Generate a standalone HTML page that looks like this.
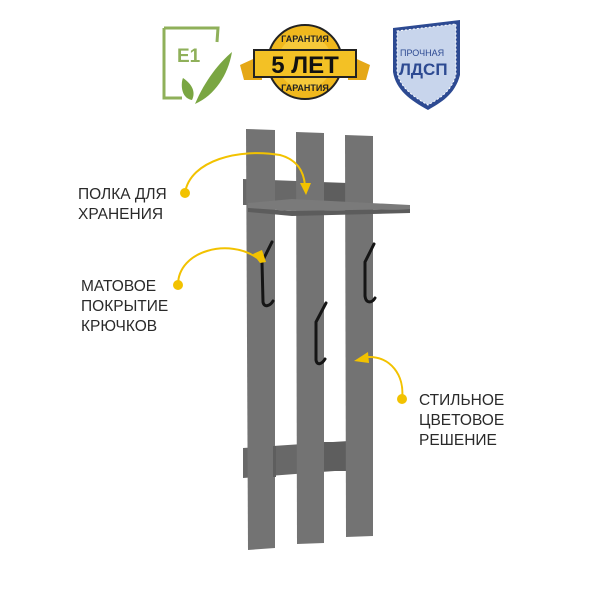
<!DOCTYPE html>
<html><head><meta charset="utf-8"><style>
html,body{margin:0;padding:0;background:#fff;width:600px;height:600px;overflow:hidden}
svg{display:block}
text{font-family:"Liberation Sans",sans-serif}
</style></head><body>
<svg width="600" height="600" viewBox="0 0 600 600" xmlns="http://www.w3.org/2000/svg">
<!-- E1 badge -->
<path d="M164 28 L218 28 L217 42" fill="none" stroke="#8fb05a" stroke-width="3"/>
<path d="M164 28 L164 98 L182 98" fill="none" stroke="#8fb05a" stroke-width="3"/>
<text x="177" y="62" font-size="19" font-weight="bold" fill="#8fb05a">E1</text>
<path d="M195 104 C205 80 220 62 232 52 C228 75 215 95 195 104 Z" fill="#7aa642"/>
<path d="M192 100 C180 98 181 82 183 78 C192 84 196 92 192 100 Z" fill="#7aa642"/>
<!-- warranty badge -->
<path d="M240 65 L262 55 L262 80 L244 80 Z M370 65 L348 55 L348 80 L366 80 Z" fill="#e5a817"/>
<circle cx="305" cy="62" r="37" fill="#f0b81d" stroke="#222" stroke-width="2"/>
<circle cx="305" cy="62" r="27" fill="#f6c93a"/>
<text x="305" y="42" font-size="9" text-anchor="middle" fill="#222" font-weight="bold">ГАРАНТИЯ</text>
<text x="305" y="91" font-size="9" text-anchor="middle" fill="#222" font-weight="bold">ГАРАНТИЯ</text>
<rect x="254" y="50" width="102" height="27" fill="#f3c125" stroke="#222" stroke-width="2"/>
<text x="305" y="73" font-size="24" text-anchor="middle" fill="#111" font-weight="bold">5 ЛЕТ</text>
<!-- shield -->
<path d="M393 28 L460 20 L460 75 C455 95 440 103 428 110 C410 100 396 90 393 72 Z" fill="#2d4a92"/>
<path d="M397 31 L456 24 L456 74 C452 92 438 99 428 105 C412 96 400 87 397 72 Z" fill="#c8d5ec" stroke="#fff" stroke-dasharray="2 2"/>
<text x="400" y="56" font-size="9" fill="#2d4a92">ПРОЧНАЯ</text>
<text x="399" y="75" font-size="17" font-weight="bold" fill="#2d4a92">ЛДСП</text>
<!-- back panels (behind boards) -->
<polygon points="243,179 348,183 348,205 243,205" fill="#686868"/>
<polygon points="243,448 348,441 348,470 243,478" fill="#686868"/>
<rect x="323" y="183" width="25" height="22" fill="#5e5e5e"/>
<rect x="323" y="442" width="25" height="29" fill="#5e5e5e"/>
<!-- boards -->
<g fill="#737373">
<polygon points="246,129 275,130 275,548 248,550"/>
<polygon points="296,132 324,133 324,543 297,544"/>
<polygon points="345,135 373,136 373,536 346,537"/>
</g>
<rect x="273" y="446" width="3" height="31" fill="#5e5e5e"/>
<!-- shelf plate -->
<polygon points="248,203 292,199 410,205 410,209 292,211 248,208" fill="#7a7a7a"/>
<polygon points="248,208 292,211 410,209 410,213 292,216 248,212" fill="#5c5c5c"/>
<!-- hooks -->
<g fill="none" stroke="#151515" stroke-width="3" stroke-linecap="round">
<path d="M272 242 L262 262 L263 302 C264 308 270 306 273 301"/>
<path d="M326 303 L316 322 L316 360 C317 366 322 364 325 359"/>
<path d="M374 244 L365 262 L365 296 C366 304 372 303 375 298"/>
</g>
<!-- arrows -->
<g fill="none" stroke="#f2c200" stroke-width="2">
<path d="M185 193 C190 160 240 148 280 155 C298 160 304 172 305 186"/>
<path d="M178 285 C178 250 230 238 257 258"/>
<path d="M402 399 C405 375 390 356 368 357"/>
</g>
<g fill="#f2c200">
<circle cx="185" cy="193" r="5"/>
<circle cx="178" cy="285" r="5"/>
<circle cx="402" cy="399" r="5"/>
<polygon points="300,183 311,183 306,195"/>
<polygon points="253,254 260,263 266,262 262,250"/>
<polygon points="354,361 368,352 369,363"/>
</g>
<g font-size="15.5" fill="#2a2a2a">
<text x="78" y="199">ПОЛКА ДЛЯ</text>
<text x="78" y="219">ХРАНЕНИЯ</text>
<text x="81" y="291">МАТОВОЕ</text>
<text x="81" y="311">ПОКРЫТИЕ</text>
<text x="81" y="331">КРЮЧКОВ</text>
<text x="419" y="405">СТИЛЬНОЕ</text>
<text x="419" y="425">ЦВЕТОВОЕ</text>
<text x="419" y="445">РЕШЕНИЕ</text>
</g>
</svg>
</body></html>
